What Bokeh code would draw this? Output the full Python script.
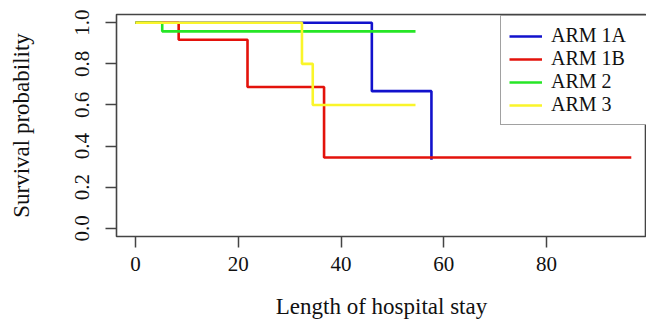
from bokeh.plotting import figure
from bokeh.models import Range1d, FixedTicker, NumeralTickFormatter, Legend
from bokeh.embed import file_html
from bokeh.resources import INLINE

# Kaplan-Meier step data (time, survival)
arm1a_t = [0, 46.0, 57.6]
arm1a_s = [1.0, 0.667, 0.333]
arm1b_t = [0, 8.4, 21.8, 36.7, 96.5]
arm1b_s = [1.0, 0.917, 0.6875, 0.344, 0.344]
arm2_t = [0, 5.2, 54.5]
arm2_s = [1.0, 0.958, 0.958]
arm3_t = [0, 32.4, 34.5, 54.5]
arm3_s = [1.0, 0.8, 0.6, 0.6]

names = ["ARM 1A", "ARM 1B", "ARM 2", "ARM 3"]
colors = ["#1212CC", "#E3120B", "#26E626", "#FAF52A"]
x_ticks = [0, 20, 40, 60, 80]
y_ticks = [0.0, 0.2, 0.4, 0.6, 0.8, 1.0]
x_title = "Length of hospital stay"
y_title = "Survival probability"

FONT = "Liberation Serif"

p = figure(width=646, height=325, output_backend="svg", toolbar_location=None,
           x_range=Range1d(-3.7, 99.46), y_range=Range1d(-0.04, 1.04),
           min_border_left=116, min_border_top=14, min_border_right=0,
           min_border_bottom=89)
p.background_fill_color = "white"
p.border_fill_color = "white"
p.xgrid.visible = False
p.ygrid.visible = False
p.outline_line_color = "#444444"
p.outline_line_width = 1.6

renderers = []
for t, s, n, c in zip([arm1a_t, arm1b_t, arm2_t, arm3_t],
                      [arm1a_s, arm1b_s, arm2_s, arm3_s], names, colors):
    r = p.step(t, s, mode="after", line_color=c, line_width=2.6)
    renderers.append((n, [r]))

for ax in (p.xaxis[0], p.yaxis[0]):
    ax.axis_line_color = None
    ax.major_tick_line_color = "#444444"
    ax.major_tick_line_width = 1.5
    ax.major_tick_in = 0
    ax.major_tick_out = 11
    ax.minor_tick_line_color = None
    ax.major_label_text_font = FONT
    ax.major_label_text_font_size = "21px"
    ax.major_label_text_color = "#111111"
    ax.axis_label_text_font = FONT
    ax.axis_label_text_font_size = "23px"
    ax.axis_label_text_font_style = "normal"
    ax.axis_label_text_color = "#111111"

p.xaxis.ticker = FixedTicker(ticks=x_ticks)
p.yaxis.ticker = FixedTicker(ticks=y_ticks)
p.yaxis.formatter = NumeralTickFormatter(format="0.0")
p.yaxis.major_label_orientation = "vertical"
p.xaxis.axis_label = x_title
p.yaxis.axis_label = y_title
p.xaxis.major_label_standoff = 9
p.xaxis.axis_label_standoff = 20
p.yaxis.major_label_standoff = 16
p.yaxis.axis_label_standoff = 39

legend = Legend(items=renderers, location=(384, 111), margin=0, padding=8,
                glyph_width=33, glyph_height=22, label_height=22, spacing=0,
                label_standoff=9, label_width=200,
                label_text_font=FONT, label_text_font_size="20px",
                label_text_color="#111111",
                border_line_color="#444444", border_line_width=1.6,
                background_fill_color="white", background_fill_alpha=1.0)
p.add_layout(legend, "center")

open("out.html", "w").write(file_html(p, INLINE))
